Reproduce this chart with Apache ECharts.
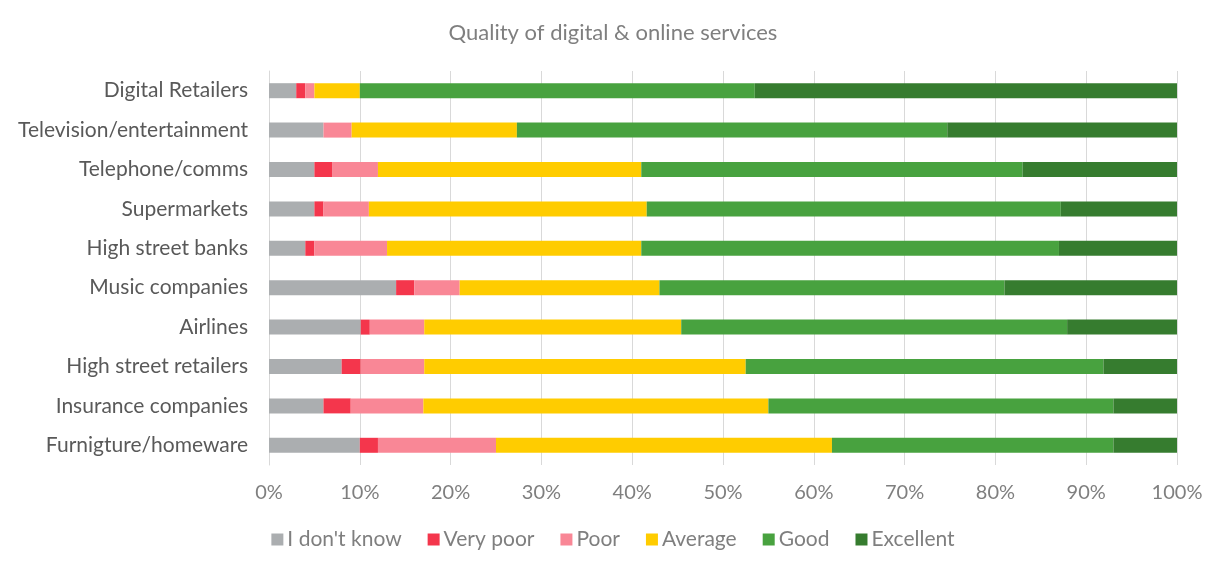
<!DOCTYPE html>
<html><head><meta charset="utf-8">
<script src="https://cdn.jsdelivr.net/npm/echarts@6/dist/echarts.min.js"></script>
<style>html,body{margin:0;padding:0;background:#fff}#c{width:1226px;height:574px}</style>
</head><body><div id="c"></div>
<script>
const categories = ["Digital Retailers","Television/entertainment","Telephone/comms","Supermarkets","High street banks","Music companies","Airlines","High street retailers","Insurance companies","Furnigture/homeware"];
const seriesNames = ["I don't know","Very poor","Poor","Average","Good","Excellent"];
const dontKnow  = [3, 6, 5, 5, 4, 14, 10.1, 8, 6, 10];
const veryPoor  = [1, 0, 2, 1, 1, 2, 1, 2.1, 3, 2];
const poor      = [1, 3.1, 5, 5, 8, 5, 6, 7, 8, 13];
const average   = [5, 18.2, 29, 30.6, 28, 22, 28.3, 35.4, 38, 37];
const good      = [43.5, 47.4, 42, 45.6, 46, 38, 42.5, 39.4, 38, 31];
const excellent = [46.5, 25.3, 17, 12.8, 13, 19, 12.1, 8.1, 7, 7];
const xTicks = [0,10,20,30,40,50,60,70,80,90,100];
const colors = ["#ABAEB0","#F4364C","#F98796","#FFCC00","#48A23F","#367C2F"];
const values = [dontKnow, veryPoor, poor, average, good, excellent];
const font = "Lato, 'Open Sans', sans-serif";

const chart = echarts.init(document.getElementById('c'));
chart.setOption({
  animation: false,
  title: {text: "Quality of digital & online services", left: 'center', top: 17,
    textStyle: {color: '#7f7f7f', fontSize: 22, fontWeight: 'normal', fontFamily: font}},
  legend: {bottom: 19, left: 'center', itemWidth: 12, itemHeight: 12, itemGap: 26,
    icon: 'rect',
    textStyle: {color: '#7f7f7f', fontSize: 21, fontFamily: font, padding: [0,0,0,-1]},
    data: seriesNames},
  grid: {left: 269, right: 49, top: 71, bottom: 109, containLabel: false},
  xAxis: {type: 'value', min: 0, max: 100, interval: 10,
    axisLabel: {formatter: v => v + '%', color: '#7f7f7f', fontSize: 20, fontFamily: font, margin: 18},
    splitLine: {show: true, lineStyle: {color: '#d9d9d9', width: 1}},
    axisLine: {show: false}, axisTick: {show: false}},
  yAxis: {type: 'category', data: categories, inverse: true,
    axisLabel: {color: '#595959', fontSize: 21, fontFamily: font, margin: 21},
    axisLine: {show: true, lineStyle: {color: '#d9d9d9'}}, axisTick: {show: false}},
  series: seriesNames.map((n, i) => ({
    name: n, type: 'bar', stack: 'total', barWidth: 15,
    itemStyle: {color: colors[i]}, data: values[i]
  }))
});
</script></body></html>
